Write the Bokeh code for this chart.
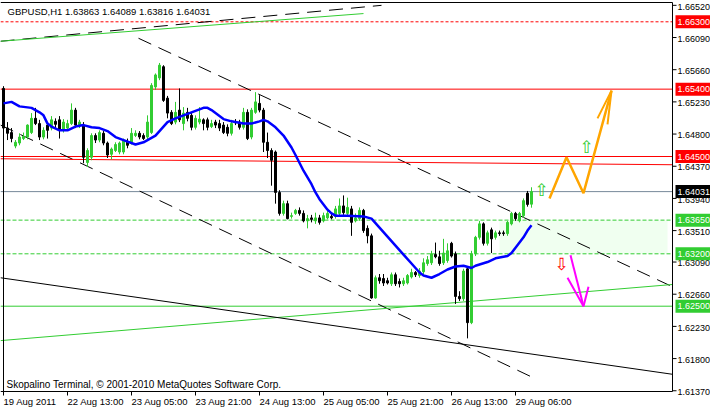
from bokeh.plotting import figure
from bokeh.models import Range1d, ColumnDataSource
from bokeh.core.properties import value
from bokeh.embed import file_html
from bokeh.resources import INLINE

FONT = "Liberation Sans"

# ---- OHLC data (H1 bars, index 0 = 19 Aug 2011 late) ----
bar_open = [1.6541,1.6488,1.6482,1.6464,1.6468,1.6474,1.6476,1.6482,1.6501,1.6494,
            1.6476,1.6492,1.6488,1.6497,1.6499,1.6485,1.6488,1.6494,1.6512,1.6492,
            1.6492,1.6442,1.6449,1.6478,1.6472,1.6481,1.6468,1.6453,1.6458,1.6456,
            1.6456,1.6470,1.6469,1.6478,1.6481,1.6478,1.6476,1.6482,1.6543,1.6555,
            1.6570,1.6528,1.6509,1.6496,1.6512,1.6494,1.6509,1.6505,1.6489,1.6496,
            1.6499,1.6499,1.6490,1.6496,1.6494,1.6492,1.6489,1.6481,1.6496,1.6496,
            1.6489,1.6509,1.6476,1.6509,1.6521,1.6512,1.6469,1.6458,1.6456,1.6402,
            1.6374,1.6387,1.6370,1.6374,1.6378,1.6374,1.6364,1.6368,1.6364,1.6368,
            1.6364,1.6368,1.6370,1.6370,1.6374,1.6384,1.6374,1.6380,1.6364,1.6367,
            1.6378,1.6354,1.6344,1.6261,1.6288,1.6287,1.6284,1.6280,1.6292,1.6283,
            1.6280,1.6281,1.6289,1.6295,1.6291,1.6296,1.6307,1.6308,1.6319,1.6316,
            1.6308,1.6311,1.6334,1.6320,1.6263,1.6260,1.6300,1.6228,1.6320,1.6342,
            1.6360,1.6334,1.6352,1.6342,1.6348,1.6348,1.6347,1.6360,1.6374,1.6364,
            1.6371,1.6401,1.63863]
bar_close = [1.6488,1.6481,1.6474,1.6469,1.6476,1.6477,1.6492,1.6501,1.6494,1.6476,
             1.6485,1.6485,1.6499,1.6493,1.6485,1.6496,1.6494,1.6512,1.6492,1.6496,
             1.6449,1.6458,1.6478,1.6472,1.6482,1.6468,1.6452,1.6460,1.6466,1.6468,
             1.6472,1.6465,1.6481,1.6481,1.6476,1.6474,1.6496,1.6545,1.6559,1.6572,
             1.6525,1.6508,1.6494,1.6509,1.6499,1.6508,1.6501,1.6489,1.6501,1.6500,
             1.6494,1.6489,1.6494,1.6492,1.6488,1.6482,1.6481,1.6494,1.6495,1.6489,
             1.6509,1.6474,1.6512,1.6523,1.6512,1.6469,1.6458,1.6445,1.6402,1.6374,
             1.6387,1.6367,1.6371,1.6378,1.6374,1.6364,1.6367,1.6366,1.6368,1.6362,
             1.6371,1.6374,1.6368,1.6380,1.6384,1.6375,1.6382,1.6362,1.6368,1.6378,
             1.6351,1.6344,1.6261,1.6288,1.6284,1.6281,1.6281,1.6292,1.6280,1.6280,
             1.6284,1.6291,1.6295,1.6292,1.6297,1.6308,1.6312,1.6320,1.6316,1.6307,
             1.6321,1.6324,1.6317,1.6263,1.6260,1.6297,1.6228,1.6320,1.6342,1.6360,
             1.6334,1.6348,1.6340,1.6348,1.6347,1.6347,1.6362,1.6374,1.6367,1.6374,
             1.6391,1.6386,1.64031]
bar_high = [1.6544,1.6496,1.6488,1.6472,1.6481,1.6482,1.6493,1.6508,1.6515,1.6499,
            1.6489,1.6496,1.6504,1.6501,1.6504,1.6500,1.6499,1.6521,1.6515,1.6499,
            1.6496,1.6461,1.6481,1.6481,1.6485,1.6484,1.6470,1.6462,1.6469,1.6470,
            1.6474,1.6474,1.6488,1.6485,1.6484,1.6481,1.6505,1.6548,1.6561,1.6575,
            1.6572,1.6531,1.6512,1.6523,1.6541,1.6516,1.6515,1.6509,1.6505,1.6516,
            1.6501,1.6502,1.6499,1.6499,1.6499,1.6496,1.6493,1.6499,1.6500,1.6499,
            1.6515,1.6513,1.6515,1.6536,1.6532,1.6515,1.6482,1.6461,1.6458,1.6405,
            1.6391,1.6391,1.6375,1.6380,1.6382,1.6378,1.6372,1.6372,1.6375,1.6372,
            1.6375,1.6378,1.6375,1.6384,1.6394,1.6398,1.6395,1.6384,1.6374,1.6382,
            1.6380,1.6358,1.6347,1.6291,1.6293,1.6293,1.6288,1.6295,1.6295,1.6287,
            1.6288,1.6293,1.6300,1.6297,1.6301,1.6314,1.6317,1.6324,1.6335,1.6324,
            1.6340,1.6334,1.6336,1.6323,1.6270,1.6300,1.6303,1.6324,1.6344,1.6364,
            1.6362,1.6351,1.6355,1.6351,1.6351,1.6351,1.6364,1.6376,1.6376,1.6376,
            1.6394,1.6404,1.64089]
bar_low = [1.6136,1.6472,1.6469,1.6461,1.6465,1.6472,1.6473,1.6480,1.6492,1.6472,
           1.6473,1.6474,1.6485,1.6488,1.6474,1.6482,1.6485,1.6492,1.6488,1.6488,
           1.6441,1.6436,1.6445,1.6468,1.6469,1.6465,1.6448,1.6446,1.6456,1.6453,
           1.6453,1.6461,1.6466,1.6476,1.6473,1.6472,1.6473,1.6480,1.6539,1.6552,
           1.6523,1.6501,1.6492,1.6493,1.6496,1.6485,1.6497,1.6485,1.6486,1.6493,
           1.6485,1.6485,1.6488,1.6488,1.6484,1.6480,1.6477,1.6478,1.6492,1.6486,
           1.6486,1.6472,1.6473,1.6507,1.6509,1.6456,1.6448,1.6411,1.6387,1.6371,
           1.6371,1.6366,1.6367,1.6372,1.6371,1.6362,1.6354,1.6362,1.6360,1.6359,
           1.6362,1.6366,1.6366,1.6367,1.6371,1.6372,1.6371,1.6344,1.6362,1.6364,
           1.6348,1.6334,1.6260,1.6260,1.6280,1.6277,1.6279,1.6277,1.6277,1.6275,
           1.6277,1.6279,1.6287,1.6289,1.6288,1.6293,1.6304,1.6305,1.6314,1.6304,
           1.6305,1.6308,1.6315,1.6253,1.6257,1.6257,1.6207,1.6226,1.6317,1.6339,
           1.6331,1.6331,1.6321,1.6339,1.6344,1.6344,1.6344,1.6358,1.6364,1.6362,
           1.6368,1.6383,1.63816]

# moving average (blue), sampled at bar indices
ma_bar = [0,2,4,7,9,10,11,12,14,16,18,20,22,24,26,28,30,33,35,36,38,40,41,43,45,47,50,51,52,53,
          55,57,60,62,64,65,66,67,68,70,72,73,75,77,78,79,80,81,82,83,86,90,92,94,96,98,100,102,104,105,
          107,109,111,113,115,117,118,121,123,126,127,129,130,131,132]
ma_val = [1.6521,1.6523,1.6517,1.6515,1.6509,1.6505,1.6494,1.6490,1.6485,1.6485,1.6490,1.6492,1.6489,1.6488,
          1.6484,1.6476,1.6472,1.6466,1.6469,1.6472,1.6478,1.6490,1.6496,1.6501,1.6505,1.6509,1.6515,1.6515,
          1.6512,1.6508,1.6500,1.6497,1.6494,1.6494,1.6497,1.6499,1.6497,1.6493,1.6489,1.6478,1.6462,1.6452,
          1.6431,1.6413,1.6402,1.6393,1.6386,1.6379,1.6374,1.6371,1.6371,1.6370,1.6367,1.6355,1.6343,1.6331,
          1.6319,1.6307,1.6295,1.6291,1.6288,1.6293,1.6299,1.6303,1.6304,1.6301,1.6304,1.6309,1.6314,1.6317,
          1.6321,1.6335,1.6342,1.6351,1.6358]

# axis ticks
xtick_bars = [0, 16, 32, 48, 64, 80, 96, 112, 128]
xtick_text = ["19 Aug 2011", "22 Aug 13:00", "23 Aug 05:00", "23 Aug 21:00", "24 Aug 13:00",
              "25 Aug 05:00", "25 Aug 21:00", "26 Aug 13:00", "29 Aug 06:00"]
ytick_vals = [1.6137, 1.6180, 1.6223, 1.6266, 1.6309, 1.6351, 1.6394, 1.6437, 1.6480,
              1.6523, 1.6566, 1.6609, 1.6652]

# horizontal levels
res_levels = [1.6540, 1.6450]          # red solid
res_dash_level = 1.6630                 # red dashed
sup_dash_levels = [1.6365, 1.6320]      # green dashed
sup_level = 1.6250                      # green solid
bid = 1.64031

# trend lines: (bar0, price0, bar1, price1)
tl_black_dash = [(-0.75, 1.6604, 94.5, 1.6652),
                 (33.75, 1.6608, 167.25, 1.6276),
                 (-0.75, 1.6492, 133.0, 1.6153)]
tl_green = [(-0.75, 1.6604, 90.0, 1.6641),
            (-0.75, 1.6204, 167.25, 1.6279)]
tl_black = [(-0.75, 1.6288, 167.25, 1.6159)]
tl_red = [(-0.75, 1.6447, 167.25, 1.6439)]

# zone rectangle
zone_bars = (124, 166)
zone_prices = (1.6320, 1.6365)

# forecast paths (bar, price)
orange_bar = [136.5, 140.75, 145.0, 152.0]
orange_val = [1.6394, 1.6449, 1.6401, 1.6538]
orange_head_bar = [148.5, 152.0, 151.0]
orange_head_val = [1.6501, 1.6538, 1.6493]
magenta_bar = [141.75, 145.0]
magenta_val = [1.6318, 1.6250]
magenta_head_bar = [141.0, 145.0, 146.25]
magenta_head_val = [1.6288, 1.6250, 1.6276]

# arrow signals
up_bar = [134.5, 145.75]
up_val = [1.6405, 1.6463]
dn_bar = [139.5]
dn_val = [1.6306]

GREEN = "#32CD32"

# ---- pixel layout helpers (MT4 style: 4 px per bar) ----
W, H = 710, 408
def bx(px):
    return (px - 3) / 4.0
def py(px):
    return 1.663 - (px - 21.3) / 7484.0
PX = 1 / 7484.0

LEFT, RIGHT, TOP, BOTTOM = bx(0), bx(672), py(2), py(391)

p = figure(width=W, height=H, output_backend="svg", toolbar_location=None,
           x_range=Range1d(bx(0), bx(W)), y_range=Range1d(py(H), py(0)),
           x_axis_location=None, y_axis_location=None,
           min_border_left=0, min_border_right=0, min_border_top=0, min_border_bottom=0)
p.grid.visible = False
p.outline_line_color = None
p.background_fill_color = "white"
p.border_fill_color = "white"

# zone
p.quad(left=[zone_bars[0]], right=[zone_bars[1]], bottom=[zone_prices[0]], top=[zone_prices[1]],
       fill_color="#F0FFF0", line_color=None)

# horizontal levels
for lv in res_levels:
    p.line([LEFT, RIGHT], [lv, lv], line_color="red", line_width=1)
p.line([LEFT, RIGHT], [res_dash_level] * 2, line_color="red", line_width=1, line_dash="3 2")
for lv in sup_dash_levels:
    p.line([LEFT, RIGHT], [lv, lv], line_color=GREEN, line_width=1, line_dash="4 2")
p.line([LEFT, RIGHT], [sup_level] * 2, line_color=GREEN, line_width=1)
p.line([LEFT, RIGHT], [bid, bid], line_color="#778899", line_width=1)

for (b0, v0, b1, v1) in tl_black_dash:
    p.line([b0, b1], [v0, v1], line_color="black", line_width=1, line_dash="14 8")
for (b0, v0, b1, v1) in tl_green:
    p.line([b0, b1], [v0, v1], line_color=GREEN, line_width=1)
for (b0, v0, b1, v1) in tl_black:
    p.line([b0, b1], [v0, v1], line_color="black", line_width=1)
for (b0, v0, b1, v1) in tl_red:
    p.line([b0, b1], [v0, v1], line_color="red", line_width=1)

# candles
n = len(bar_open)
idx = list(range(n))
cols = [GREEN if c >= o else "black" for o, c in zip(bar_open, bar_close)]
src = ColumnDataSource(dict(x=idx, o=bar_open, c=bar_close, h=bar_high, l=bar_low,
                            top=[max(o, c) for o, c in zip(bar_open, bar_close)],
                            bot=[min(o, c) for o, c in zip(bar_open, bar_close)], col=cols))
p.segment(x0="x", y0="h", x1="x", y1="l", line_color="col", line_width=1, source=src)
p.vbar(x="x", top="top", bottom="bot", width=0.5, fill_color="col", line_color="col",
       line_width=1, source=src)

# moving average
p.line(ma_bar, ma_val, line_color="#0000FF", line_width=2.5)

# forecast paths
p.line(orange_bar, orange_val, line_color="#FFA500", line_width=2.5)
p.line(orange_head_bar, orange_head_val, line_color="#FFA500", line_width=2)
p.line(magenta_bar, magenta_val, line_color="#FF00FF", line_width=2)
p.line(magenta_head_bar, magenta_head_val, line_color="#FF00FF", line_width=2)

# arrow signals
p.text(x=up_bar, y=up_val, text=["\u21e7"] * len(up_bar), text_font=value("DejaVu Sans"),
       text_font_size="17px", text_color=GREEN, text_align="center", text_baseline="middle")
p.text(x=dn_bar, y=dn_val, text=["\u21e9"] * len(dn_bar), text_font=value("DejaVu Sans"),
       text_font_size="17px", text_color="red", text_align="center", text_baseline="middle")

# ---- frame and axes (MT4 look) ----
p.line([LEFT, RIGHT], [TOP, TOP], line_color="black", line_width=1)
p.line([LEFT, RIGHT], [BOTTOM, BOTTOM], line_color="black", line_width=1)
p.line([RIGHT, RIGHT], [TOP, BOTTOM], line_color="black", line_width=1)
# y ticks + labels
p.segment(x0=[RIGHT] * len(ytick_vals), x1=[bx(676)] * len(ytick_vals), y0=ytick_vals, y1=ytick_vals,
          line_color="black", line_width=1)
p.text(x=[bx(677)] * len(ytick_vals), y=[v - 1.2 * PX for v in ytick_vals],
       text=["%.5f" % v for v in ytick_vals],
       text_font=value(FONT), text_font_size="9px", text_color="black",
       text_align="left", text_baseline="middle")
# x ticks + labels
p.segment(x0=xtick_bars, x1=xtick_bars, y0=[BOTTOM] * len(xtick_bars), y1=[py(395)] * len(xtick_bars),
          line_color="black", line_width=1)
p.text(x=xtick_bars, y=[py(400.5)] * len(xtick_bars), text=xtick_text,
       text_font=value(FONT), text_font_size="9.5px", text_color="black",
       text_align="left", text_baseline="middle")

# price boxes on the right scale
box_vals = [1.6630, 1.6540, 1.6450, bid, 1.6365, 1.6320, 1.6250]
box_cols = ["red", "red", "red", "black", GREEN, GREEN, GREEN]
half = 6.5 * PX
p.quad(left=[bx(675)] * len(box_vals), right=[bx(W)] * len(box_vals),
       bottom=[v - half for v in box_vals], top=[v + half for v in box_vals],
       fill_color=box_cols, line_color=None)
p.text(x=[bx(677)] * len(box_vals), y=box_vals, text=["%.5f" % v for v in box_vals],
       text_font=value(FONT), text_font_size="9px", text_color="white",
       text_align="left", text_baseline="middle")

# title and footer
p.text(x=[bx(7)], y=[py(10.5)], text=["GBPUSD,H1  1.63863 1.64089 1.63816 1.64031"],
       text_font=value(FONT), text_font_size="9.5px", text_color="black",
       text_align="left", text_baseline="middle")
p.text(x=[bx(6)], y=[py(384)], text=["Skopalino Terminal, \u00a9 2001-2010 MetaQuotes Software Corp."],
       text_font=value(FONT), text_font_size="10px", text_color="black",
       text_align="left", text_baseline="middle")

open("out.html", "w").write(file_html(p, INLINE))
